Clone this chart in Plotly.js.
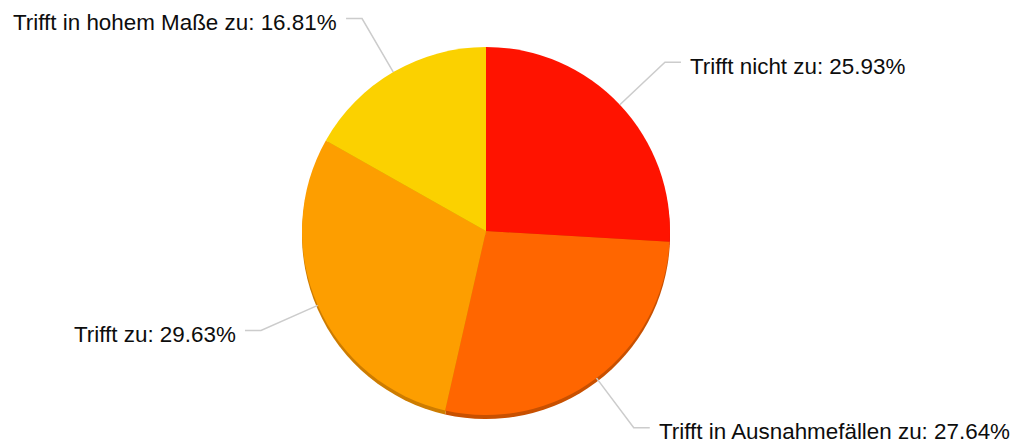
<!DOCTYPE html>
<html>
<head>
<meta charset="utf-8">
<script src="https://cdn.plot.ly/plotly-3.0.1.min.js"></script>
<style>html,body{margin:0;padding:0;background:#fff;}#chart{width:1016px;height:446px;}</style>
</head>
<body>
<div id="chart"></div>
<script>
const labels = ["Trifft nicht zu", "Trifft in Ausnahmefällen zu", "Trifft zu", "Trifft in hohem Maße zu"];
const values = [25.93, 27.64, 29.63, 16.81];
const colors = ["#ff1300", "#ff6600", "#fd9e00", "#fbd100"];
const shadowColors = ["#c81000", "#c85000", "#cd7c00", "#c9a500"];

const W = 1016, H = 446;
const CX = 486, CY = 231, R = 184, SHADOW = 4;
const px = x => x / W, py = y => 1 - y / H;

const main = {
  type: 'pie', values: values, labels: labels, sort: false, direction: 'clockwise', rotation: 0,
  marker: {colors: colors, line: {width: 0}}, textinfo: 'none', hoverinfo: 'none', showlegend: false,
  domain: {x: [px(CX - R), px(CX + R)], y: [py(CY + R), py(CY - R)]}
};
const shadow = {
  type: 'pie', values: values, labels: labels, sort: false, direction: 'clockwise', rotation: 0,
  marker: {colors: shadowColors, line: {width: 0}}, textinfo: 'none', hoverinfo: 'none', showlegend: false,
  domain: {x: [px(CX - R), px(CX + R)], y: [py(CY + R + SHADOW), py(CY - R + SHADOW)]}
};

const total = values.reduce((a, b) => a + b, 0);
const shapes = [], annotations = [];
let cum = 0;
values.forEach((v, i) => {
  const mid = (cum + v / 2) / total * 2 * Math.PI;
  cum += v;
  const s = Math.sin(mid), c = Math.cos(mid);
  const x0 = CX + R * s, y0 = CY - R * c;
  const RE = 246;
  const x1 = CX + RE * s, y1 = CY - RE * c;
  const dir = s >= 0 ? 1 : -1;
  const x2 = x1 + dir * 16;
  shapes.push({
    type: 'path', xref: 'paper', yref: 'paper',
    path: `M ${px(x0)} ${py(y0)} L ${px(x1)} ${py(y1)} L ${px(x2)} ${py(y1)}`,
    line: {color: '#cccccc', width: 1.5}
  });
  annotations.push({
    xref: 'paper', yref: 'paper', x: px(x2 + dir * 7), y: py(y1 + 4),
    xanchor: dir > 0 ? 'left' : 'right', yanchor: 'middle', showarrow: false,
    text: `${labels[i]}: ${v.toFixed(2)}%`,
    font: {family: 'Liberation Sans, Arial, sans-serif', size: 22.4, color: '#0d0d0d'}
  });
});

Plotly.newPlot('chart', [shadow, main], {
  width: W, height: H, margin: {l: 0, r: 0, t: 0, b: 0},
  paper_bgcolor: '#ffffff', plot_bgcolor: '#ffffff',
  shapes: shapes, annotations: annotations, showlegend: false
}, {displayModeBar: false, staticPlot: true});
</script>
</body>
</html>
